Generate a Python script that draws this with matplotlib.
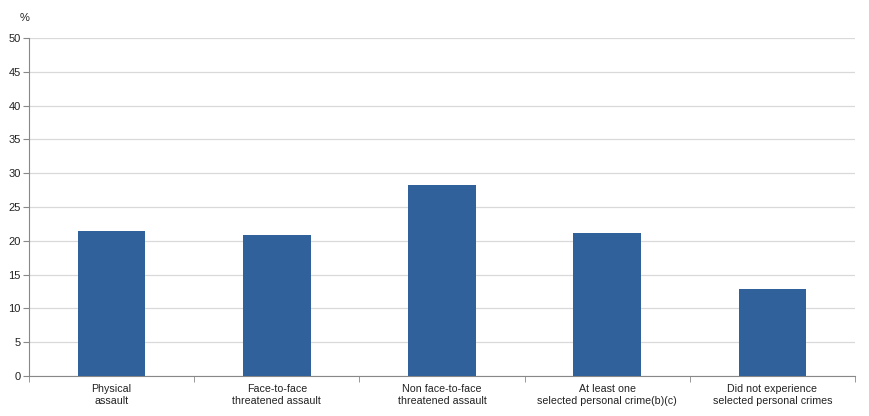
import matplotlib
matplotlib.use("Agg")
import matplotlib.pyplot as plt
from matplotlib.ticker import FixedLocator

categories = ["Physical\nassault", "Face-to-face\nthreatened assault",
              "Non face-to-face\nthreatened assault",
              "At least one\nselected personal crime(b)(c)",
              "Did not experience\nselected personal crimes"]
values = [21.5, 20.8, 28.2, 21.1, 12.8]
yticks = [0, 5, 10, 15, 20, 25, 30, 35, 40, 45, 50]

plt.rcParams['font.family'] = ['Liberation Sans', 'DejaVu Sans']

fig = plt.figure(figsize=(8.69, 4.16), dpi=100)
ax = fig.add_axes([29/869, 40/416, (855-29)/869, (376-38)/416])

x = list(range(len(categories)))
ax.bar(x, values, width=0.41, color="#31619a", zorder=3)
ax.set_xlim(-0.5, len(categories) - 0.5)
ax.set_ylim(0, 50)
ax.set_yticks(yticks)
ax.set_yticklabels([str(t) for t in yticks], fontsize=8, color="#222222")
ax.set_xticks(x)
ax.set_xticklabels(categories, fontsize=7.7, color="#222222", linespacing=1.25)
ax.tick_params(axis='x', length=0, pad=6)
ax.xaxis.set_minor_locator(FixedLocator([i - 0.5 for i in range(len(categories) + 1)]))
ax.tick_params(axis='x', which='minor', length=4, color="#888888", direction='out')
ax.tick_params(axis='y', length=4, color="#888888", direction='out', pad=2)
ax.grid(axis='y', color="#d9d9d9", linewidth=0.9, zorder=0)
for s in ['top', 'right']:
    ax.spines[s].set_visible(False)
ax.spines['left'].set_color("#888888")
ax.spines['bottom'].set_color("#888888")
fig.text(25/869, 1 - 18/416, "%", fontsize=8, ha='center', va='center', color="#222222")

fig.savefig("out.png", dpi=100)
